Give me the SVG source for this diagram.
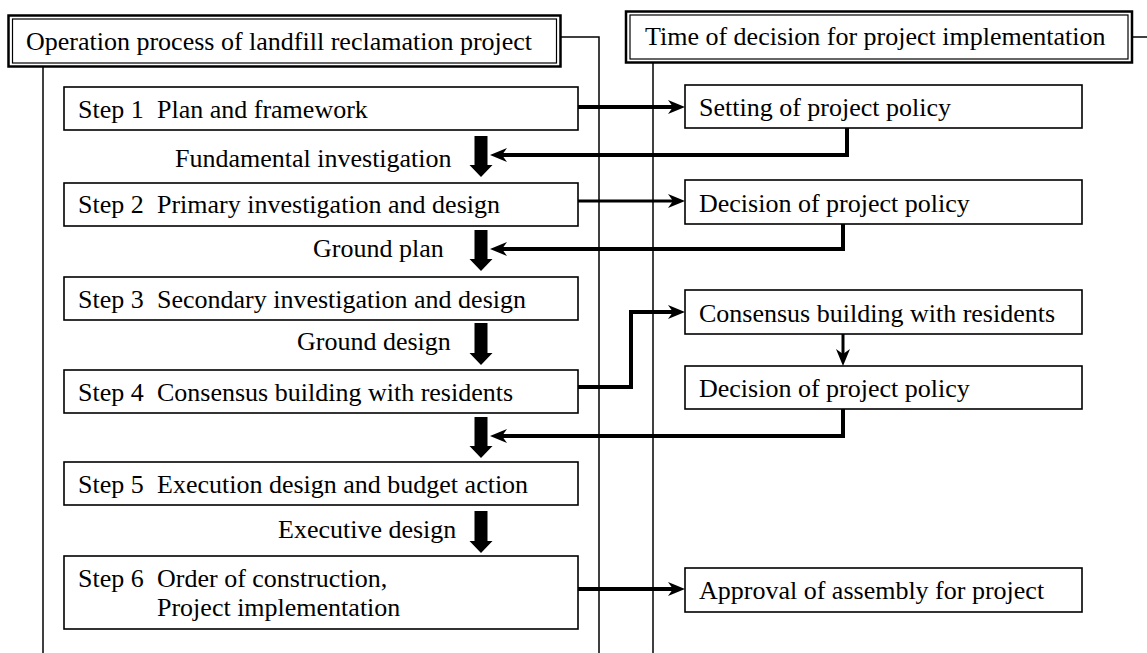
<svg xmlns="http://www.w3.org/2000/svg" width="1147" height="653" viewBox="0 0 1147 653">
<style>
text{font-family:"Liberation Serif","Times New Roman",serif;font-size:26px;fill:#000}
.box{fill:#fff;stroke:#000;stroke-width:1.6}
.outer{fill:#fff;stroke:#000;stroke-width:2.5}
.inner{fill:none;stroke:#000;stroke-width:1.2}
.lane{fill:none;stroke:#000;stroke-width:1.5}
.conn{fill:none;stroke:#000;stroke-width:4}
.thin{fill:none;stroke:#000;stroke-width:3}
.big{fill:#000}
</style>
<defs>
<marker id="ah" markerUnits="userSpaceOnUse" markerWidth="18" markerHeight="16" viewBox="0 -8 18 16" refX="5" refY="0" orient="auto">
<path d="M0,-7 L17,0 L0,7 L5,0 Z" fill="#000"/>
</marker>
</defs>
<g id="lanes">
<path class="lane" d="M43,67 V653"/>
<path class="lane" d="M561,37 H599 V653"/>
<path class="lane" d="M653,63 V653"/>
<path class="lane" d="M1132,37 H1147"/>
</g>
<g id="header1">
<rect class="outer" x="8.5" y="15.5" width="552" height="51"/>
<rect class="inner" x="12.5" y="19" width="544" height="44"/>
<text x="26" y="50">Operation process of landfill reclamation project</text>
</g>
<g id="header2">
<rect class="outer" x="626" y="11.5" width="506" height="51"/>
<rect class="inner" x="630" y="15" width="498" height="44"/>
<text x="645" y="45">Time of decision for project implementation</text>
</g>
<g id="step1">
<rect class="box" x="64" y="87" width="514" height="43"/>
<text y="118"><tspan x="78">Step 1</tspan><tspan x="157">Plan and framework</tspan></text>
</g>
<g id="step2">
<rect class="box" x="64" y="183" width="514" height="43"/>
<text y="213"><tspan x="78">Step 2</tspan><tspan x="157">Primary investigation and design</tspan></text>
</g>
<g id="step3">
<rect class="box" x="64" y="277" width="514" height="43"/>
<text y="308"><tspan x="78">Step 3</tspan><tspan x="157">Secondary investigation and design</tspan></text>
</g>
<g id="step4">
<rect class="box" x="64" y="370" width="514" height="43"/>
<text y="401"><tspan x="78">Step 4</tspan><tspan x="157">Consensus building with residents</tspan></text>
</g>
<g id="step5">
<rect class="box" x="64" y="462" width="514" height="43"/>
<text y="493"><tspan x="78">Step 5</tspan><tspan x="157">Execution design and budget action</tspan></text>
</g>
<g id="step6">
<rect class="box" x="64" y="556" width="514" height="73"/>
<text y="587"><tspan x="78">Step 6</tspan><tspan x="157">Order of construction,</tspan></text>
<text x="157" y="616">Project implementation</text>
</g>
<g id="setting">
<rect class="box" x="685" y="85" width="397" height="43"/>
<text x="699" y="116">Setting of project policy</text>
</g>
<g id="decision1">
<rect class="box" x="685" y="180" width="397" height="44"/>
<text x="699" y="212">Decision of project policy</text>
</g>
<g id="consensus">
<rect class="box" x="685" y="290" width="397" height="44"/>
<text x="699" y="322">Consensus building with residents</text>
</g>
<g id="decision2">
<rect class="box" x="685" y="366" width="397" height="43"/>
<text x="699" y="397">Decision of project policy</text>
</g>
<g id="approval">
<rect class="box" x="685" y="568" width="397" height="44"/>
<text x="699" y="599">Approval of assembly for project</text>
</g>
<g id="labels">
<text x="175" y="167">Fundamental investigation</text>
<text x="313" y="257">Ground plan</text>
<text x="297" y="350">Ground design</text>
<text x="278" y="538">Executive design</text>
</g>
<g id="connectors">
<polygon class="big" points="474.5,136 487.5,136 487.5,165 492.5,165 481,177 469.5,165 474.5,165"/>
<polygon class="big" points="474.5,230 487.5,230 487.5,259 492.5,259 481,271 469.5,259 474.5,259"/>
<polygon class="big" points="474.5,323 487.5,323 487.5,353 492.5,353 481,365 469.5,353 474.5,353"/>
<polygon class="big" points="474.5,417 487.5,417 487.5,446 492.5,446 481,458 469.5,446 474.5,446"/>
<polygon class="big" points="474.5,511 487.5,511 487.5,541 492.5,541 481,553 469.5,541 474.5,541"/>
<path class="conn" d="M578,107 H673" marker-end="url(#ah)"/>
<path class="conn" d="M847,128 V155 H502" marker-end="url(#ah)"/>
<path class="thin" d="M578,201 H673" marker-end="url(#ah)"/>
<path class="conn" d="M843,224 V249 H502" marker-end="url(#ah)"/>
<path class="conn" d="M578,387 H631 V312 H673" marker-end="url(#ah)"/>
<path class="thin" d="M843,334 V354" marker-end="url(#ah)"/>
<path class="conn" d="M843,409 V436 H502" marker-end="url(#ah)"/>
<path class="conn" d="M578,589 H673" marker-end="url(#ah)"/>
</g>
</svg>
